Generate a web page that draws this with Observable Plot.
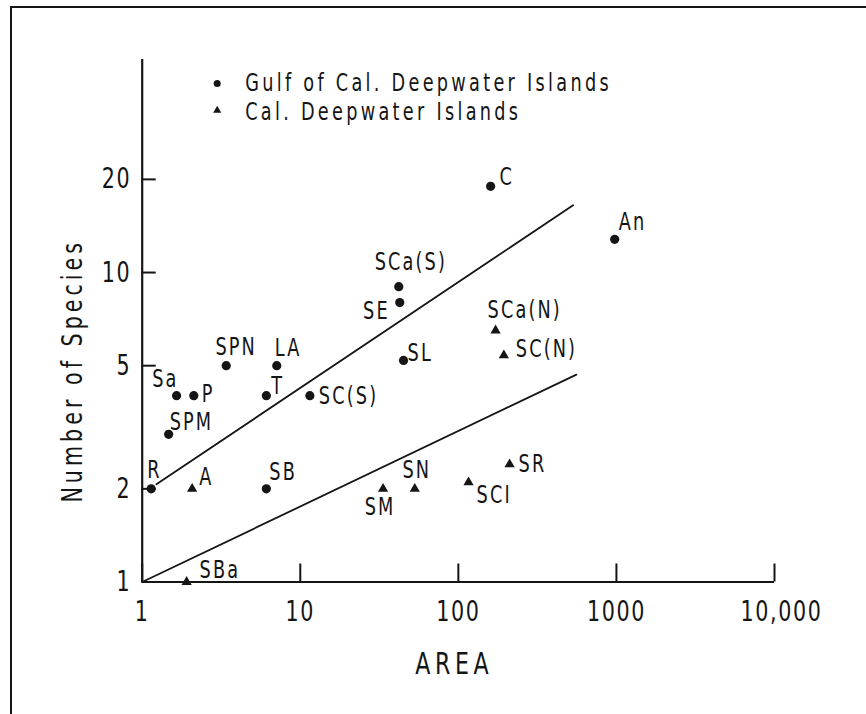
<!DOCTYPE html>
<html>
<head>
<meta charset="utf-8">
<script src="https://cdn.jsdelivr.net/npm/d3@7"></script>
<script src="https://cdn.jsdelivr.net/npm/@observablehq/plot@0.6"></script>
<style>
  html, body { margin: 0; padding: 0; background: #fff; }
  #wrap { position: relative; width: 866px; height: 714px; overflow: hidden; }
  #border { position: absolute; left: 10px; top: 6px; width: 900px; height: 800px;
            border-left: 2px solid #151515; border-top: 2px solid #151515; pointer-events: none; }
  #wrap svg { position: absolute; left: 0; top: 0; }
  #wrap svg text { font-family: "Liberation Sans Narrow", "DejaVu Sans Condensed", "DejaVu Sans", sans-serif;
                   font-stretch: condensed; letter-spacing: 2px; }
</style>
</head>
<body>
<div id="wrap"><div id="border"></div></div>
<script>
// ---- Data ----
// Gulf of California deepwater islands (dots)
const gulfNames   = ["C", "An", "SCa(S)", "SE", "SL", "SPN", "LA", "Sa", "P", "T", "SC(S)", "SPM", "R", "SB"];
const gulfArea    = [160, 975, 42, 42.6, 45, 3.4, 7.1, 1.65, 2.12, 6.1, 11.5, 1.47, 1.14, 6.1];
const gulfSpecies = [19, 12.8, 9, 8, 5.2, 5, 5, 4, 4, 4, 4, 3, 2, 2];

// California deepwater islands (triangles)
const calNames   = ["SCa(N)", "SC(N)", "A", "SM", "SN", "SCI", "SR", "SBa"];
const calArea    = [172, 194, 2.07, 33.4, 53, 116, 211, 1.91];
const calSpecies = [6.5, 5.4, 2, 2, 2, 2.1, 2.4, 1];

// Fitted lines (end points)
const upperLineArea    = [1.23, 532];
const upperLineSpecies = [2.07, 16.5];
const lowerLineArea    = [1, 558];
const lowerLineSpecies = [1, 4.68];

// Axes
const xTicks      = [1, 10, 100, 1000, 10000];
const xTickLabels = ["1", "10", "100", "1000", "10,000"];
const yTicks      = [1, 2, 5, 10, 20];
const yTickLabels = ["1", "2", "5", "10", "20"];
const xLabel = "AREA";
const yLabel = "Number of Species";

// Legend
const legendLabels  = ["Gulf of Cal. Deepwater Islands", "Cal. Deepwater Islands"];
const legendSymbols = ["circle", "triangle"];

// ---- Layout (label placement, pixels) ----
const labelPlacement = {
  "C":      {dx: 9,  dy: -9,  anchor: "start"},
  "An":     {dx: 4,  dy: -17, anchor: "start"},
  "SCa(S)": {dx: 12, dy: -24, anchor: "middle"},
  "SE":     {dx: -10, dy: 9,  anchor: "end"},
  "SL":     {dx: 4,  dy: -7,  anchor: "start"},
  "SPN":    {dx: 10, dy: -18, anchor: "middle"},
  "LA":     {dx: -2, dy: -17, anchor: "start"},
  "Sa":     {dx: 2,  dy: -16, anchor: "end"},
  "P":      {dx: 8,  dy: -1,  anchor: "start"},
  "T":      {dx: 5,  dy: -9,  anchor: "start"},
  "SC(S)":  {dx: 9,  dy: 1,   anchor: "start"},
  "SPM":    {dx: 1,  dy: -12, anchor: "start"},
  "R":      {dx: -4, dy: -19, anchor: "start"},
  "SB":     {dx: 3,  dy: -17, anchor: "start"},
  "SCa(N)": {dx: -8, dy: -20, anchor: "start"},
  "SC(N)":  {dx: 12, dy: -6,  anchor: "start"},
  "A":      {dx: 7,  dy: -12, anchor: "start"},
  "SM":     {dx: -3, dy: 18,  anchor: "middle"},
  "SN":     {dx: 2,  dy: -19, anchor: "middle"},
  "SCI":    {dx: 8,  dy: 13,  anchor: "start"},
  "SR":     {dx: 9,  dy: 0,   anchor: "start"},
  "SBa":    {dx: 13, dy: -12, anchor: "start"}
};
const narrow = 0.82; // horizontal squeeze for the tall, narrow lettering

const ink = "#151515";
const gulf = gulfNames.map((name, i) => ({name, area: gulfArea[i], species: gulfSpecies[i]}));
const cal  = calNames.map((name, i) => ({name, area: calArea[i], species: calSpecies[i]}));
const upper = upperLineArea.map((a, i) => ({area: a, species: upperLineSpecies[i]}));
const lower = lowerLineArea.map((a, i) => ({area: a, species: lowerLineSpecies[i]}));

const labelMarks = [...gulf, ...cal].map(d => {
  const p = labelPlacement[d.name];
  return Plot.text([d], {x: "area", y: "species", text: "name", dx: p.dx, dy: p.dy,
                         textAnchor: p.anchor, fontSize: 24, fill: ink});
});

const legendMarks = legendLabels.flatMap((lab, i) => [
  Plot.dot([lab], {frameAnchor: "top-left", dx: 75, dy: 24 + i * 27, r: i === 0 ? 3.5 : 3,
                   symbol: legendSymbols[i], fill: ink, stroke: "none"}),
  Plot.text([lab], {frameAnchor: "top-left", dx: 103, dy: 24 + i * 29, text: d => d,
                    textAnchor: "start", lineAnchor: "middle", fontSize: 24, fill: ink})
]);

const chart = Plot.plot({
  width: 866,
  height: 714,
  marginLeft: 141.7,
  marginRight: 92,
  marginTop: 59,
  marginBottom: 132.5,
  style: {background: "transparent", color: ink},
  x: {type: "log", domain: [1, 10000]},
  y: {type: "log", domain: [1, 48.8]},
  marks: [
    Plot.ruleX([1], {stroke: ink, strokeWidth: 2.2}),
    Plot.ruleY([1], {stroke: ink, strokeWidth: 2.2}),
    Plot.axisX({ticks: xTicks, tickSize: -18, fill: "none", stroke: ink, strokeWidth: 2}),
    Plot.axisX({ticks: xTicks, tickSize: 0, tickPadding: 19, label: null, fontSize: 28, fill: ink,
                tickFormat: d => xTickLabels[xTicks.indexOf(d)]}),
    Plot.axisY({ticks: yTicks, tickSize: -14, fill: "none", stroke: ink, strokeWidth: 2}),
    Plot.axisY({ticks: yTicks, tickSize: 0, tickPadding: 11, label: null, fontSize: 28, fill: ink,
                tickFormat: d => yTickLabels[yTicks.indexOf(d)]}),
    Plot.text([xLabel], {frameAnchor: "bottom", dx: -4, dy: 82, text: d => d, fontSize: 30, fill: ink,
                         textAnchor: "middle", lineAnchor: "middle"}),
    Plot.text([yLabel], {frameAnchor: "left", dx: -69, dy: 50, rotate: -90, text: d => d, fontSize: 28, fill: ink,
                         textAnchor: "middle", lineAnchor: "middle"}),
    Plot.line(upper, {x: "area", y: "species", stroke: ink, strokeWidth: 1.8}),
    Plot.line(lower, {x: "area", y: "species", stroke: ink, strokeWidth: 1.8}),
    Plot.dot(gulf, {x: "area", y: "species", r: 4.6, symbol: "circle", fill: ink, stroke: "none"}),
    Plot.dot(cal, {x: "area", y: "species", r: 3.8, symbol: "triangle", fill: ink, stroke: "none"}),
    ...labelMarks,
    ...legendMarks
  ]
});

document.getElementById("wrap").appendChild(chart);

const svg = d3.select(chart);
svg.selectAll("text")
  .filter(function () { return this.textContent === xLabel; })
  .style("letter-spacing", "5.6px");
svg.selectAll("text")
  .filter(function () { return legendLabels.includes(this.textContent); })
  .style("letter-spacing", "4px");
svg.selectAll("text")
  .filter(function () { return this.textContent === yLabel; })
  .style("letter-spacing", "4.9px");
svg.selectAll("text")
  .filter(function () { return gulfNames.includes(this.textContent) || calNames.includes(this.textContent); })
  .style("letter-spacing", "2.6px");
// squeeze every text horizontally about its own anchor
svg.selectAll("text").each(function () {
  let t = this.getAttribute("transform");
  if (!t) {
    const x = +(this.getAttribute("x") || 0);
    const yAttr = this.getAttribute("y");
    const y = yAttr && !String(yAttr).includes("em") ? +yAttr : 0;
    if (yAttr && !String(yAttr).includes("em")) this.removeAttribute("y");
    this.removeAttribute("x");
    t = `translate(${x},${y})`;
  }
  // the hand-lettered "10,000" sits a little right of its tick
  const shift = this.textContent === xTickLabels[xTickLabels.length - 1] ? " translate(7,0)" : "";
  this.setAttribute("transform", t + shift + ` scale(${narrow},1)`);
});
</script>
</body>
</html>
